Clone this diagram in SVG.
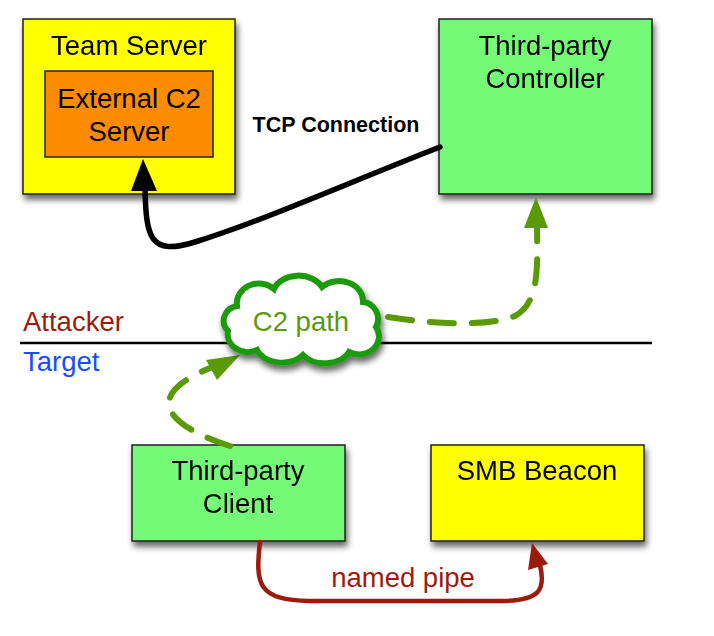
<svg xmlns="http://www.w3.org/2000/svg" width="714" height="636" viewBox="0 0 714 636">
<defs>
<filter id="sh" x="-20%" y="-20%" width="140%" height="140%">
<feGaussianBlur in="SourceAlpha" stdDeviation="3"/>
<feOffset dx="2" dy="5" result="b"/>
<feComponentTransfer><feFuncA type="linear" slope="0.6"/></feComponentTransfer>
<feMerge><feMergeNode/><feMergeNode in="SourceGraphic"/></feMerge>
</filter>
</defs>
<style>
.box{stroke:#222;stroke-width:1.5}
.t{font-family:"Liberation Sans",Arial,sans-serif;font-size:27.5px;fill:#000;text-anchor:middle}
.dash{fill:none;stroke:#5a9a06;stroke-width:6;stroke-linecap:round;stroke-dasharray:24 18}
</style>
<rect width="714" height="636" fill="#fff"/>
<line x1="20" y1="343" x2="652" y2="343" stroke="#000" stroke-width="2.5"/>
<text x="23" y="331" font-family="Liberation Sans,Arial,sans-serif" font-size="27.5" fill="#9a1c0c">Attacker</text>
<text x="23" y="371" font-family="Liberation Sans,Arial,sans-serif" font-size="27.5" fill="#1a4cff">Target</text>
<g id="teamserver" filter="url(#sh)">
<rect class="box" x="23" y="19" width="212" height="175" fill="#ffff00"/>
<text class="t" x="129" y="55">Team Server</text>
</g>
<g id="externalc2">
<rect class="box" x="45" y="71" width="168" height="86" fill="#ff8c00"/>
<text class="t" x="129" y="108">External C2</text>
<text class="t" x="129" y="141">Server</text>
</g>
<g id="controller" filter="url(#sh)">
<rect class="box" x="439" y="19" width="213" height="175" fill="#75fa78"/>
<text class="t" x="545" y="55">Third-party</text>
<text class="t" x="545" y="88">Controller</text>
</g>
<g id="client" filter="url(#sh)">
<rect class="box" x="132" y="445" width="213" height="96" fill="#75fa78"/>
<text class="t" x="238" y="480">Third-party</text>
<text class="t" x="238" y="513">Client</text>
</g>
<g id="smb" filter="url(#sh)">
<rect class="box" x="431" y="445" width="213" height="96" fill="#ffff00"/>
<text class="t" x="537" y="480">SMB Beacon</text>
</g>
<g id="connectors">
<path d="M440,147 C350,182 260,222 195,242 C150,256 146,238 145,188" fill="none" stroke="#000" stroke-width="5.5" stroke-linecap="round"/>
<path d="M143,159 L131,191 L157,191 Z" fill="#000"/>
<text x="336" y="132" font-family="Liberation Sans,Arial,sans-serif" font-size="21.5" font-weight="bold" text-anchor="middle" fill="#000">TCP Connection</text>
<path d="M260,542 C255,585 258,600 310,601 L500,601 C540,601 546,590 540,565" fill="none" stroke="#9a1c0c" stroke-width="4.5" stroke-linecap="round"/>
<path d="M532,543 L528,570 L548,564 Z" fill="#9a1c0c"/>
<text x="403" y="587" font-family="Liberation Sans,Arial,sans-serif" font-size="27.5" text-anchor="middle" fill="#9a1c0c">named pipe</text>
<path class="dash" d="M230,446 C165,425 140,395 215,366"/>
<path d="M240,355 L206,360 L217,380 Z" fill="#5a9a06"/>
<path class="dash" d="M388,317 C440,325 490,326 515,316 C541,302 537,262 537,226"/>
<path d="M536,197 L524,228 L548,228 Z" fill="#5a9a06"/>
</g>
<g id="cloud">
<path filter="url(#sh)" d="M237,306 A22,20 0 0 1 274,289 A26,20 0 0 1 322,287 A24,20 0 0 1 363,302 A17,17 0 0 1 376,327 A20,18 0 0 1 349,352 A26,18 0 0 1 303,355 A26,18 0 0 1 257,350 A20,18 0 0 1 228,331 A16,15 0 0 1 237,306 Z" fill="#fff" stroke="#1f9a0a" stroke-width="6"/>
<text x="301" y="331" font-family="Liberation Sans,Arial,sans-serif" font-size="27.5" text-anchor="middle" fill="#5a9a06">C2 path</text>
</g>
</svg>
